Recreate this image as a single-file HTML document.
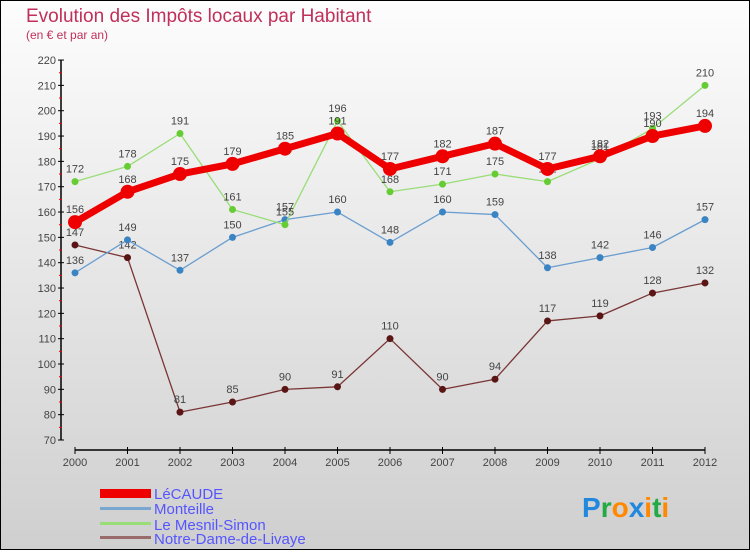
<!DOCTYPE html>
<html><head><meta charset="utf-8"><style>
body{margin:0;width:750px;height:550px;overflow:hidden;font-family:"Liberation Sans",sans-serif}
</style></head><body>
<svg id="c" width="750" height="550" xmlns="http://www.w3.org/2000/svg">
<defs><linearGradient id="bg" x1="0" y1="0" x2="0" y2="1"><stop offset="0" stop-color="#fdfdfd"/><stop offset="1" stop-color="#cfcfcf"/></linearGradient></defs>
<rect x="0.5" y="0.5" width="749" height="549" fill="url(#bg)" stroke="#000"/>
<text x="26" y="22" font-size="19" fill="#c0305a">Evolution des Impôts locaux par Habitant</text>
<text x="26" y="39" font-size="12" fill="#c0305a">(en € et par an)</text>
<g id="axes"></g><g id="series"></g>
<g font-size="15" fill="#5555ff">
<rect x="100" y="489" width="51" height="9" fill="#ee0000"/>
<text x="154" y="499">LéCAUDE</text>
<rect x="100" y="507" width="51" height="3" fill="#7aa7d0"/>
<text x="154" y="514">Monteille</text>
<rect x="100" y="522" width="51" height="3" fill="#99dd77"/>
<text x="154" y="530">Le Mesnil-Simon</text>
<rect x="100" y="536" width="51" height="3" fill="#9a6b6b"/>
<text x="154" y="544">Notre-Dame-de-Livaye</text>
</g>
<text x="582" y="517" font-size="28" font-weight="bold"><tspan fill="#2288dd">P</tspan><tspan fill="#22aa44">r</tspan><tspan fill="#ff8800">o</tspan><tspan fill="#2288dd">x</tspan><tspan fill="#ff8800">i</tspan><tspan fill="#22aa44">t</tspan><tspan fill="#ff8800">i</tspan></text>
</svg>
<script>
const years=[2000,2001,2002,2003,2004,2005,2006,2007,2008,2009,2010,2011,2012];
const yTicks=[70,80,90,100,110,120,130,140,150,160,170,180,190,200,210,220];
const lecaude=[156,168,175,179,185,191,177,182,187,177,182,190,194];
const monteille=[136,149,137,150,157,160,148,160,159,138,142,146,157];
const mesnil=[172,178,191,161,155,196,168,171,175,172,181,193,210];
const notreDame=[147,142,81,85,90,91,110,90,94,117,119,128,132];
const NS="http://www.w3.org/2000/svg";
const X=i=>75+i*52.5, Y=v=>440-(v-70)*2.533;
function mk(t,a,p){const e=document.createElementNS(NS,t);for(const k in a)e.setAttribute(k,a[k]);p.appendChild(e);return e;}
const ax=document.getElementById('axes'), sg=document.getElementById('series');
let yl=mk('line',{x1:61,y1:Y(220),x2:61,y2:Y(70),stroke:'#000','stroke-width':1.5},ax);


yTicks.forEach(v=>{
 mk('line',{x1:58,x2:64,y1:Y(v),y2:Y(v),stroke:'#000'},ax);
 if(v<220)mk('line',{x1:59,x2:62,y1:Y(v+5),y2:Y(v+5),stroke:'#e00'},ax);
 const t=mk('text',{x:56,y:Y(v)+4,'font-size':11,fill:'#444','text-anchor':'end'},ax);t.textContent=v;
 
 
});
let xl=mk('line',{x1:X(0),y1:450,x2:X(12),y2:450,stroke:'#000','stroke-width':1.5},ax);


years.forEach((y,i)=>{
 mk('line',{x1:X(i),x2:X(i),y1:447,y2:454,stroke:'#000'},ax);
 const t=mk('text',{x:X(i),y:466,'font-size':11,fill:'#444','text-anchor':'middle'},ax);t.textContent=y;
 
 
});
function series(d,name,col,w,r,dot){
 const g=mk('g',{},sg);
 
 
 mk('polyline',{points:d.map((v,i)=>X(i)+','+Y(v)).join(' '),fill:'none',stroke:col,'stroke-width':w,'stroke-linejoin':'round'},g);
 d.forEach((v,i)=>{
  const c=mk('circle',{cx:X(i),cy:Y(v),r:r,fill:dot},g);
  
  
  const t=mk('text',{x:X(i),y:Y(v)-9,'font-size':11,fill:'#444','text-anchor':'middle'},g);t.textContent=v;
  
  
 });
}
series(notreDame,'notre-dame','#7a3535',1.3,3.5,'#5a1515');
series(monteille,'monteille','#6a9ed0',1.3,3.5,'#3a84c4');
series(mesnil,'mesnil-simon','#99dd77',1.3,3.5,'#66cc33');
series(lecaude,'lecaude','#ee0000',7,7,'#ee0000');
</script>
</body></html>
